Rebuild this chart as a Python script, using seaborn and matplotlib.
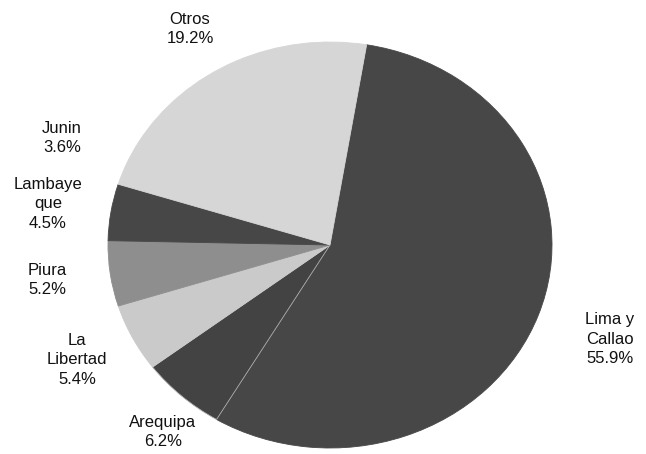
import matplotlib
matplotlib.use("Agg")
import matplotlib.pyplot as plt
import seaborn as sns

# === DONNEES ===
regiones = ["Lima y\nCallao", "Arequipa", "La\nLibertad", "Piura", "Lambaye\nque", "Junin", "Otros"]
porcentajes = [55.9, 6.2, 5.4, 5.2, 4.5, 3.6, 19.2]
colores = ["#474747", "#434343", "#cacaca", "#8e8e8e", "#474747", "#d6d6d6", "#d6d6d6"]

# label centres in pixels (x, y from top)
label_pos = [(610, 339), (163, 432), (77, 360), (47, 280), (48, 204), (62, 138), (190, 29)]

sns.set_theme(style="white")
plt.rcParams["font.family"] = ["Liberation Sans", "DejaVu Sans"]

W, H = 646, 454
fig = plt.figure(figsize=(W / 100, H / 100), dpi=100)
fig.patch.set_facecolor("white")

cx, cy, rx, ry = 330, 245, 222, 203
ax = fig.add_axes([(cx - rx) / W, (H - cy - ry) / H, 2 * rx / W, 2 * ry / H])

wedges, _ = ax.pie(porcentajes, colors=colores, startangle=80.5, counterclock=False,
                   wedgeprops={"linewidth": 0.6})
for w, c in zip(wedges, colores):
    w.set_edgecolor(c)
# fine light seam between Lima and Arequipa
wedges[1].set_edgecolor("#b0b0b0")
ax.set_aspect("auto")
ax.set_xlim(-1, 1)
ax.set_ylim(-1, 1)
ax.axis("off")

for nom, pct, (px, py) in zip(regiones, porcentajes, label_pos):
    fig.text(px / W, 1 - py / H, f"{nom}\n{pct:.1f}%", ha="center", va="center",
             fontsize=12, color="#111111", linespacing=1.4)

plt.savefig("out.png", dpi=100)
plt.close()
